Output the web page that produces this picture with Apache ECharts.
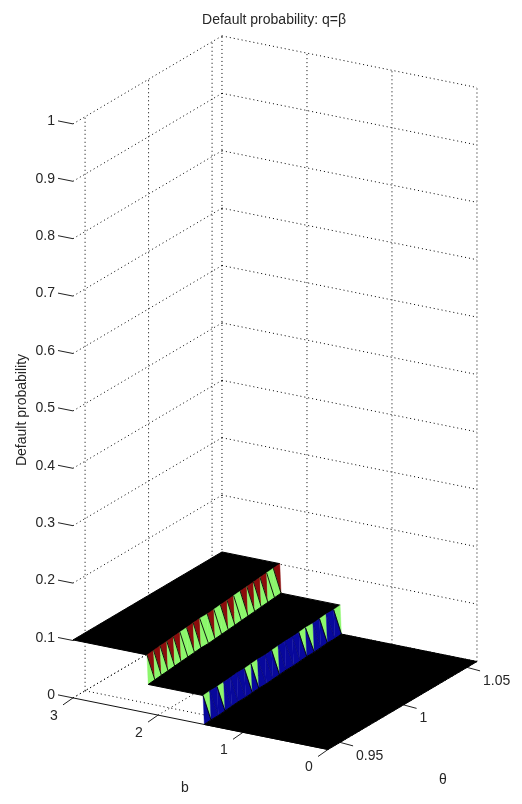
<!DOCTYPE html>
<html>
<head>
<meta charset="utf-8">
<style>html,body{margin:0;padding:0;background:#fff}#c{width:522px;height:804px}</style>
<script src="https://cdn.jsdelivr.net/npm/echarts@6/dist/echarts.min.js"></script>
</head>
<body>
<div id="c"></div>
<script>
// ---- data ----
const zTicks = [0, 0.1, 0.2, 0.3, 0.4, 0.5, 0.6, 0.7, 0.8, 0.9, 1];
const zTickLabels = ['0', '0.1', '0.2', '0.3', '0.4', '0.5', '0.6', '0.7', '0.8', '0.9', '1'];
const bTicks = [0, 1, 2, 3];
const bTickLabels = ['0', '1', '2', '3'];
const thetaTicks = [0.95, 1, 1.05];
const thetaTickLabels = ['0.95', '1', '1.05'];
const thetaGrid = [0.9405, 0.9464, 0.9522, 0.9581, 0.9640, 0.9698, 0.9757, 0.9816, 0.9874, 0.9933, 0.9992,
                   1.0050, 1.0109, 1.0168, 1.0226, 1.0285, 1.0344, 1.0402, 1.0461, 1.0520, 1.0578];
const upperStepB = [2.13, 2.14, 2.15, 2.16, 2.17, 2.18, 2.19, 2.20, 2.21, 2.21, 2.22,
                    2.23, 2.24, 2.25, 2.26, 2.27, 2.28, 2.29, 2.30, 2.31, 2.32];
const lowerStepB = [1.47, 1.48, 1.48, 1.49, 1.50, 1.51, 1.51, 1.52, 1.53, 1.53, 1.54,
                    1.55, 1.56, 1.56, 1.57, 1.58, 1.58, 1.59, 1.60, 1.60, 1.61];
const plateauLevels = [0.101, 0.05, 0];
// 1 = upper triangle of the wall cell takes the mid colour
const upperWallMidCells = [0,0,0,0,0,1,0,0,1,0,1,0,0,1,0,0,0,0,1,0];
const lowerWallMidCells = [1,0,1,0,0,0,1,1,0,0,1,0,0,0,1,1,0,1,0,1];

// ---- view ----
const BMAX = 3, BMIN = 0, ZMAX = 1;
const TMIN = thetaGrid[0], TMAX = thetaGrid[thetaGrid.length - 1];
const colors = {high: '#8c0c0c', mid: '#8cf76c', low: '#08089c', lowEdge: '#05056a', ink: '#262626'};
const FONT = 'Liberation Sans, Arial, sans-serif';
function project(b, t, z) {
  return [328 - 85 * b + 1270 * (t - TMIN),
          749.5 - 17.2 * b - 750 * (t - TMIN) - 574 * z];
}

// ---- mark lists built from the data ----
const gridLines = [];
zTicks.forEach(z => {
  gridLines.push([BMAX, TMIN, z, BMAX, TMAX, z]);
  gridLines.push([BMAX, TMAX, z, BMIN, TMAX, z]);
});
thetaTicks.forEach(t => {
  gridLines.push([BMAX, t, 0, BMAX, t, ZMAX]);
  gridLines.push([BMAX, t, 0, BMIN, t, 0]);
});
bTicks.forEach(b => {
  gridLines.push([b, TMAX, 0, b, TMAX, ZMAX]);
  gridLines.push([b, TMIN, 0, b, TMAX, 0]);
});

const polys = [];
function plateau(hiB, loB, z) {
  const pts = [];
  hiB.forEach((b, i) => pts.push([b, thetaGrid[i], z]));
  for (let i = loB.length - 1; i >= 0; i--) pts.push([loB[i], thetaGrid[i], z]);
  polys.push({pts, fill: '#000', stroke: '#000', w: 1});
}
function wall(stepB, zTop, zBot, mids, upperColor, lowerColor) {
  const shift = 0.015;
  for (let i = 0; i + 1 < stepB.length; i++) {
    const TL = [stepB[i], thetaGrid[i], zTop], TR = [stepB[i + 1], thetaGrid[i + 1], zTop];
    const BL = [stepB[i] - shift, thetaGrid[i], zBot], BR = [stepB[i + 1] - shift, thetaGrid[i + 1], zBot];
    const up = mids[i] ? colors.mid : upperColor;
    polys.push({pts: [TL, TR, BR], fill: up, stroke: up, w: 0.4});
    polys.push({pts: [TL, BR, BL], fill: lowerColor, stroke: lowerColor, w: 0.4});
  }
  for (let i = 0; i + 1 < stepB.length; i++) {
    const TL = [stepB[i], thetaGrid[i], zTop];
    const BR = [stepB[i + 1] - shift, thetaGrid[i + 1], zBot];
    const blueOnBlue = !mids[i] && upperColor === colors.low;
    polys.push({pts: [TL, BR], stroke: blueOnBlue ? colors.lowEdge : '#000', w: blueOnBlue ? 0.6 : 0.9});
  }
}
plateau(thetaGrid.map(() => BMAX), upperStepB, plateauLevels[0]);
wall(upperStepB, plateauLevels[0], plateauLevels[1], upperWallMidCells, colors.high, colors.mid);
plateau(upperStepB.map(b => b - 0.015), lowerStepB, plateauLevels[1]);
wall(lowerStepB, plateauLevels[1], plateauLevels[2], lowerWallMidCells, colors.low, colors.low);
plateau(lowerStepB.map(b => b - 0.015), thetaGrid.map(() => BMIN), plateauLevels[2]);

const tickSegs = [];
const labels = [];
zTicks.forEach((z, i) => {
  tickSegs.push({p: [BMAX, TMIN, z], d: [-15, -3]});
  labels.push({p: [BMAX, TMIN, z], off: [-18, -2.5], text: zTickLabels[i], align: 'right'});
});
bTicks.forEach((b, i) => {
  tickSegs.push({p: [b, TMIN, 0], d: [-10, 7]});
  labels.push({p: [b, TMIN, 0], off: [-19, 18], text: bTickLabels[i], align: 'center'});
});
thetaTicks.forEach((t, i) => {
  tickSegs.push({p: [BMIN, t, 0], d: [13, 3.5]});
  labels.push({p: [BMIN, t, 0], off: [16, 13.5], text: thetaTickLabels[i], align: 'left'});
});

const idx = a => a.map((_, i) => [i, i]);
const pt = (api, q) => api.coord(project(q[0], q[1], q[2]));

const option = {
  animation: false,
  backgroundColor: '#fff',
  title: {
    text: 'Default probability: q=\u03B2', left: 269, top: 8, textAlign: 'center',
    textStyle: {fontFamily: FONT, fontSize: 14, fontWeight: 'normal', color: colors.ink}
  },
  grid: {left: 0, right: 0, top: 0, bottom: 0},
  xAxis: {type: 'value', min: 0, max: 522, show: false},
  yAxis: {type: 'value', min: 0, max: 804, inverse: true, show: false},
  series: [
    {
      type: 'custom', name: 'grid', silent: true, clip: false, data: idx(gridLines),
      renderItem(params, api) {
        const g = gridLines[params.dataIndex];
        const a = pt(api, g.slice(0, 3)), c = pt(api, g.slice(3));
        return {type: 'line', shape: {x1: a[0], y1: a[1], x2: c[0], y2: c[1]},
                style: {stroke: '#000', lineWidth: 1, lineDash: [1, 3], fill: null}};
      }
    },
    {
      type: 'custom', name: 'axis', silent: true, clip: false, z: 3, data: [[0, 0]],
      renderItem(params, api) {
        const a = pt(api, [BMAX, TMIN, 0]), c = pt(api, [BMIN, TMIN, 0]);
        return {type: 'line', shape: {x1: a[0], y1: a[1], x2: c[0], y2: c[1]},
                style: {stroke: '#111', lineWidth: 1, fill: null}};
      }
    },
    {
      type: 'custom', name: 'ticks', silent: true, clip: false, z: 3, data: idx(tickSegs),
      renderItem(params, api) {
        const s = tickSegs[params.dataIndex], a = pt(api, s.p);
        return {type: 'line', shape: {x1: a[0], y1: a[1], x2: a[0] + s.d[0], y2: a[1] + s.d[1]},
                style: {stroke: '#222', lineWidth: 1, fill: null}};
      }
    },
    {
      type: 'custom', name: 'surface', silent: true, clip: false, z: 4, data: idx(polys),
      renderItem(params, api) {
        const s = polys[params.dataIndex];
        if (s.pts.length === 2) {
          const a = pt(api, s.pts[0]), c = pt(api, s.pts[1]);
          return {type: 'line', shape: {x1: a[0], y1: a[1], x2: c[0], y2: c[1]},
                  style: {stroke: s.stroke, lineWidth: s.w, fill: null}};
        }
        return {type: 'polygon', shape: {points: s.pts.map(q => pt(api, q))},
                style: {fill: s.fill, stroke: s.stroke, lineWidth: s.w}};
      }
    },
    {
      type: 'custom', name: 'labels', silent: true, clip: false, z: 5, data: idx(labels),
      renderItem(params, api) {
        const l = labels[params.dataIndex], a = pt(api, l.p);
        return {type: 'text', x: a[0] + l.off[0], y: a[1] + l.off[1],
                style: {text: l.text, fill: colors.ink, font: '14px ' + FONT, align: l.align, verticalAlign: 'middle'}};
      }
    },
    {
      type: 'custom', name: 'axisNames', silent: true, clip: false, z: 5, data: [[0, 0]],
      renderItem(params, api) {
        const f = '14px ' + FONT;
        return {type: 'group', children: [
          {type: 'text', x: api.coord([185, 0])[0], y: api.coord([0, 788])[1],
           style: {text: 'b', fill: colors.ink, font: f, align: 'center', verticalAlign: 'middle'}},
          {type: 'text', x: api.coord([443, 0])[0], y: api.coord([0, 780])[1],
           style: {text: '\u03B8', fill: colors.ink, font: f, align: 'center', verticalAlign: 'middle'}},
          {type: 'text', x: api.coord([22, 0])[0], y: api.coord([0, 410])[1], rotation: Math.PI / 2,
           style: {text: 'Default probability', fill: colors.ink, font: f, align: 'center', verticalAlign: 'middle'}}
        ]};
      }
    }
  ]
};
echarts.init(document.getElementById('c')).setOption(option);
</script>
</body>
</html>
